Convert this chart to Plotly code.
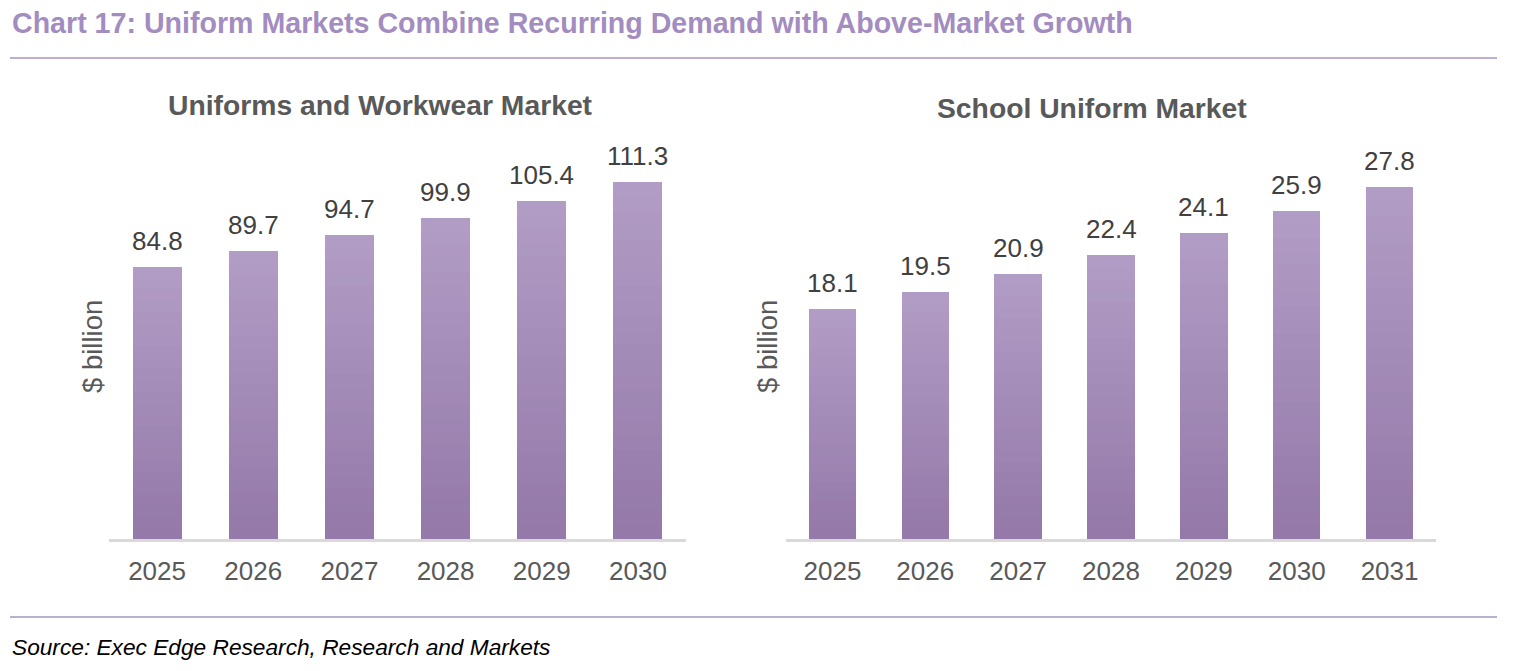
import plotly.graph_objects as go

# ---- data ----
years_left = [2025, 2026, 2027, 2028, 2029, 2030]
values_left = [84.8, 89.7, 94.7, 99.9, 105.4, 111.3]
years_right = [2025, 2026, 2027, 2028, 2029, 2030, 2031]
values_right = [18.1, 19.5, 20.9, 22.4, 24.1, 25.9, 27.8]

title_text = "Chart 17: Uniform Markets Combine Recurring Demand with Above-Market Growth"
left_title = "Uniforms and Workwear Market"
right_title = "School Uniform Market"
y_label = "$ billion"
source_text = "Source: Exec Edge Research, Research and Markets"

W, H = 1520, 671
FONT = "Arial, Liberation Sans, sans-serif"
TOP_C = (178, 157, 198)
BOT_C = (147, 120, 168)
NSEG = 24


def py(px):
    return 1 - px / H


def px_(x):
    return x / W


def seg_color(i):
    t = (i + 0.5) / NSEG  # 0 bottom -> 1 top
    r = [round(BOT_C[k] + (TOP_C[k] - BOT_C[k]) * t) for k in range(3)]
    return "rgb(%d,%d,%d)" % tuple(r)


fig = go.Figure()

panels = [(years_left, values_left, "x", "y"),
          (years_right, values_right, "x2", "y2")]

for years, vals, xa, ya in panels:
    for i in range(NSEG):
        fig.add_trace(go.Bar(
            x=years, y=[v / NSEG for v in vals], xaxis=xa, yaxis=ya,
            marker=dict(color=seg_color(i), line=dict(width=0)),
            showlegend=False, hoverinfo="skip"))

annotations = []
for years, vals, xa, ya in panels:
    for yr, v in zip(years, vals):
        annotations.append(dict(
            x=yr, y=v, xref=xa, yref=ya, text=f"{v:.1f}", showarrow=False,
            yanchor="bottom", yshift=9,
            font=dict(family=FONT, size=26, color="#404040")))

annotations += [
    dict(x=px_(10), y=py(23), xref="paper", yref="paper", text="<b>" + title_text + "</b>",
         showarrow=False, xanchor="left", yanchor="middle",
         font=dict(family=FONT, size=28.6, color="#A38CBF")),
    dict(x=px_(380), y=py(105), xref="paper", yref="paper", text="<b>" + left_title + "</b>",
         showarrow=False, xanchor="center", yanchor="middle",
         font=dict(family=FONT, size=28.3, color="#595959")),
    dict(x=px_(1092), y=py(108), xref="paper", yref="paper", text="<b>" + right_title + "</b>",
         showarrow=False, xanchor="center", yanchor="middle",
         font=dict(family=FONT, size=28.3, color="#595959")),
    dict(x=px_(93), y=py(347), xref="paper", yref="paper", text=y_label, textangle=-90,
         showarrow=False, xanchor="center", yanchor="middle",
         font=dict(family=FONT, size=27.5, color="#595959")),
    dict(x=px_(768), y=py(347), xref="paper", yref="paper", text=y_label, textangle=-90,
         showarrow=False, xanchor="center", yanchor="middle",
         font=dict(family=FONT, size=27.5, color="#595959")),
    dict(x=px_(10), y=py(647), xref="paper", yref="paper", text="<i>" + source_text + "</i>",
         showarrow=False, xanchor="left", yanchor="middle",
         font=dict(family=FONT, size=22.7, color="#000000")),
]

shapes = [
    dict(type="line", xref="paper", yref="paper", x0=px_(10), x1=px_(1497), y0=py(58), y1=py(58),
         line=dict(color="#A695BF", width=1.5)),
    dict(type="line", xref="paper", yref="paper", x0=px_(10), x1=px_(1497), y0=py(617), y1=py(617),
         line=dict(color="#A695BF", width=1.5)),
]

PLOT_TOP, BASE = 150, 539


def xaxis_cfg(years, dom, anchor):
    return dict(type="linear", domain=dom, anchor=anchor,
                range=[years[0] - 0.5, years[-1] + 0.5], tickmode="array",
                tickvals=years, ticktext=[str(y) for y in years],
                showgrid=False, zeroline=False, showline=True,
                linecolor="#D9D9D9", linewidth=2.5, ticks="", ticklabelstandoff=7,
                tickfont=dict(family=FONT, size=26, color="#595959"),
                fixedrange=True, automargin=False)


def yaxis_cfg(dom, anchor, rng):
    return dict(domain=dom, anchor=anchor, range=rng, showgrid=False, zeroline=False,
                showline=False, showticklabels=False, ticks="", fixedrange=True,
                automargin=False)


fig.update_layout(
    width=W, height=H, margin=dict(l=0, r=0, t=0, b=0, pad=0), autosize=False,
    paper_bgcolor="white", plot_bgcolor="white",
    barmode="stack", bargap=0.49,
    xaxis=xaxis_cfg(years_left, [px_(109), px_(686)], "y"),
    yaxis=yaxis_cfg([py(BASE), py(PLOT_TOP)], "x", [0, (BASE - PLOT_TOP) / 3.21]),
    xaxis2=xaxis_cfg(years_right, [px_(786), px_(1436)], "y2"),
    yaxis2=yaxis_cfg([py(BASE), py(PLOT_TOP)], "x2", [0, (BASE - PLOT_TOP) / 12.68]),
    annotations=annotations, shapes=shapes,
    font=dict(family=FONT),
)

fig.write_html("out.html", config={"displayModeBar": False},
               post_script="document.body.style.margin='0';")
